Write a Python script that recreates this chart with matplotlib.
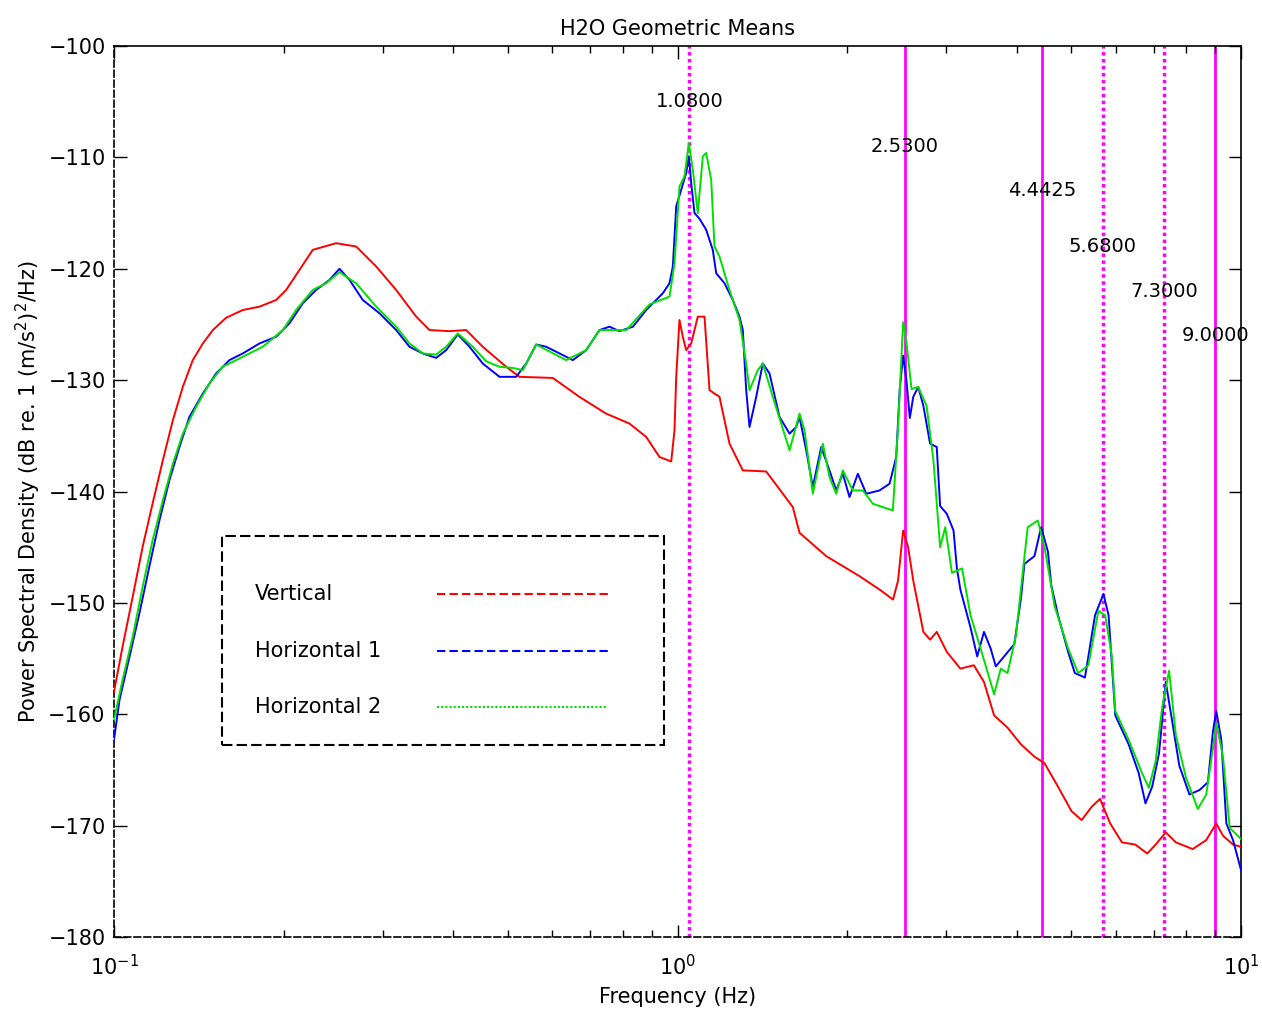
import numpy as np
import matplotlib
matplotlib.use("Agg")
import matplotlib.pyplot as plt
from matplotlib.patches import Rectangle

# ---- data (frequency in Hz, PSD in dB) ----
freq_v = [0.100, 0.1036, 0.1080, 0.1125, 0.1172, 0.1221, 0.1272, 0.1325, 0.1380, 0.1438,
          0.1498, 0.1581, 0.1693, 0.1813, 0.1940, 0.2021, 0.2134, 0.2253, 0.2479, 0.2690,
          0.2920, 0.3168, 0.3438, 0.3630, 0.3939, 0.4217, 0.4512, 0.4966, 0.5243, 0.6007,
          0.6699, 0.7467, 0.8219, 0.8800, 0.9292, 0.9746, 0.9878, 0.9947, 1.0081, 1.0219,
          1.0362, 1.0575, 1.0864, 1.1166, 1.1397, 1.1632, 1.1872, 1.2367, 1.3058, 1.4369,
          1.6019, 1.6463, 1.8359, 2.1038, 2.2830, 2.4124, 2.4622, 2.5142, 2.5659, 2.6202,
          2.7308, 2.8065, 2.8840, 3.0055, 3.1762, 3.3566, 3.4981, 3.6458, 3.8514, 4.0685,
          4.2990, 4.4803, 4.7338, 5.0026, 5.2131, 5.4325, 5.6208, 5.8578, 6.1462, 6.4938,
          6.8155, 7.0534, 7.3520, 7.6619, 8.2075, 8.6736, 9.0365, 9.2876, 9.6784, 10.0]
psd_v = [-158.0, -153.9, -149.4, -144.9, -141.0, -137.2, -133.6, -130.6, -128.2, -126.7,
         -125.5, -124.4, -123.7, -123.4, -122.8, -121.9, -120.1, -118.3, -117.7, -118.0,
         -119.8, -121.9, -124.3, -125.5, -125.6, -125.5, -127.0, -128.8, -129.7, -129.8,
         -131.5, -133.0, -133.9, -135.1, -136.9, -137.3, -134.5, -129.7, -124.6, -126.1,
         -127.3, -126.7, -124.3, -124.3, -130.9, -131.2, -131.5, -135.7, -138.1, -138.2,
         -141.4, -143.7, -145.8, -147.6, -148.8, -149.7, -148.0, -143.5, -145.0, -148.0,
         -152.6, -153.3, -152.6, -154.4, -155.9, -155.6, -157.1, -160.1, -161.2, -162.7,
         -163.8, -164.4, -166.5, -168.7, -169.5, -168.3, -167.6, -169.8, -171.5, -171.7,
         -172.5, -171.7, -170.6, -171.5, -172.1, -171.3, -169.8, -170.9, -171.7, -171.9]

freq_h1 = [0.100, 0.1023, 0.1066, 0.1110, 0.1156, 0.1204, 0.1254, 0.1307, 0.1361, 0.1438,
           0.1518, 0.1603, 0.1693, 0.1813, 0.1940, 0.2048, 0.2163, 0.2284, 0.2412, 0.2513,
           0.2618, 0.2764, 0.2960, 0.3168, 0.3345, 0.3532, 0.3730, 0.3886, 0.4075, 0.4275,
           0.4512, 0.4832, 0.5173, 0.5389, 0.5613, 0.5848, 0.6174, 0.6520, 0.6886, 0.7271,
           0.7574, 0.7888, 0.8332, 0.8800, 0.9417, 0.9678, 0.9811, 0.9947, 1.0152, 1.0362,
           1.0473, 1.0575, 1.0719, 1.0939, 1.1243, 1.1550, 1.1713, 1.2117, 1.2536, 1.2883,
           1.3058, 1.3240, 1.3421, 1.3793, 1.4170, 1.4563, 1.5171, 1.5806, 1.6241, 1.6463,
           1.6920, 1.7383, 1.7989, 1.8607, 1.9125, 1.9648, 2.0193, 2.0893, 2.1623, 2.2830,
           2.3781, 2.4441, 2.4795, 2.5142, 2.5482, 2.5836, 2.6202, 2.6740, 2.7308, 2.8065,
           2.8840, 2.9242, 3.0055, 3.0888, 3.1318, 3.1762, 3.3106, 3.4025, 3.4981, 3.5950,
           3.6711, 3.7993, 3.9594, 4.0685, 4.1259, 4.2990, 4.4187, 4.5427, 4.6048, 4.7338,
           4.9331, 5.0702, 5.2845, 5.5072, 5.6995, 5.8202, 5.9820, 6.3183, 6.5843, 6.7675,
           6.9555, 7.1519, 7.3520, 7.5571, 7.7696, 8.0988, 8.4398, 8.7341, 8.9125, 9.0365,
           9.2257, 9.4169, 9.6784, 10.0]
psd_h1 = [-162.3, -158.7, -154.8, -150.9, -146.7, -142.6, -139.0, -136.0, -133.3, -131.2,
          -129.4, -128.2, -127.6, -126.7, -126.1, -124.9, -123.1, -121.9, -121.0, -120.0,
          -121.0, -122.8, -124.0, -125.5, -127.0, -127.6, -128.0, -127.3, -125.9, -127.0,
          -128.5, -129.7, -129.7, -128.5, -126.8, -127.0, -127.6, -128.2, -127.3, -125.5,
          -125.2, -125.6, -125.2, -123.7, -122.2, -121.3, -119.8, -114.4, -112.9, -111.4,
          -109.9, -112.3, -115.0, -115.5, -116.5, -118.3, -120.4, -121.3, -122.8, -124.3,
          -125.5, -130.9, -134.2, -131.5, -128.5, -129.4, -133.3, -134.8, -134.2, -133.3,
          -136.3, -139.6, -136.0, -138.1, -139.9, -138.4, -140.5, -138.4, -140.2, -139.9,
          -139.3, -136.9, -130.8, -127.8, -130.0, -133.4, -131.5, -130.6, -132.3, -135.7,
          -136.0, -141.3, -142.0, -143.5, -146.9, -148.8, -152.2, -154.8, -152.6, -154.1,
          -155.7, -154.8, -153.7, -149.6, -146.5, -145.8, -143.2, -145.4, -148.4, -151.1,
          -154.4, -156.3, -156.7, -151.1, -149.2, -151.1, -160.1, -162.7, -165.3, -168.0,
          -166.5, -163.5, -157.1, -160.8, -164.6, -167.2, -166.8, -166.1, -161.6, -159.7,
          -162.3, -169.8, -171.3, -174.0]

freq_h2 = [0.100, 0.1036, 0.1080, 0.1125, 0.1172, 0.1221, 0.1272, 0.1325, 0.1399, 0.1477,
           0.1559, 0.1693, 0.1837, 0.1994, 0.2105, 0.2253, 0.2379, 0.2513, 0.2690, 0.2920,
           0.3168, 0.3345, 0.3532, 0.3730, 0.3886, 0.4075, 0.4332, 0.4575, 0.4832, 0.5101,
           0.5314, 0.5613, 0.6343, 0.6886, 0.7271, 0.8110, 0.8918, 0.9678, 0.9878, 1.0081,
           1.0290, 1.0473, 1.0645, 1.0864, 1.1090, 1.1243, 1.1475, 1.1632, 1.1872, 1.2367,
           1.2883, 1.3240, 1.3421, 1.3882, 1.4170, 1.4760, 1.5806, 1.6463, 1.6804, 1.7383,
           1.8109, 1.8607, 1.9125, 1.9648, 2.0469, 2.1323, 2.2215, 2.4107, 2.4603, 2.5142,
           2.5482, 2.6021, 2.6740, 2.7669, 2.8453, 2.9242, 2.9862, 3.0690, 3.1983, 3.3106,
           3.4503, 3.6458, 3.7471, 3.8514, 3.9869, 4.0976, 4.1824, 4.3586, 4.4803, 4.6692,
           4.9331, 5.1408, 5.3580, 5.5836, 5.7390, 5.8984, 5.9820, 6.3183, 6.6745, 6.8634,
           7.0534, 7.2484, 7.4534, 7.6619, 7.9858, 8.3818, 8.6736, 8.9125, 9.0365, 9.2876,
           9.5477, 10.0]
psd_h2 = [-160.5, -156.9, -153.0, -148.5, -144.3, -140.8, -137.5, -134.8, -132.4, -130.3,
          -128.8, -127.9, -127.0, -125.5, -123.7, -121.9, -121.3, -120.3, -121.3, -123.4,
          -125.2, -126.7, -127.6, -127.7, -127.0, -125.8, -127.0, -128.3, -128.8, -128.9,
          -129.1, -126.8, -128.2, -127.3, -125.5, -125.5, -123.2, -122.5, -119.5, -112.6,
          -111.7, -108.7, -111.1, -115.0, -109.9, -109.6, -112.0, -118.0, -118.9, -121.9,
          -124.6, -128.5, -130.9, -129.1, -128.5, -131.5, -136.3, -133.0, -134.5, -140.2,
          -135.7, -138.7, -140.2, -138.1, -139.9, -139.9, -141.1, -141.7, -134.5, -124.8,
          -126.6, -130.8, -130.6, -132.3, -137.2, -145.0, -143.2, -147.3, -146.9, -151.1,
          -154.1, -158.2, -155.9, -156.3, -152.9, -147.3, -143.2, -142.6, -145.0, -150.3,
          -154.1, -156.3, -155.6, -150.7, -151.1, -154.8, -159.7, -162.3, -165.3, -166.6,
          -164.2, -159.3, -156.1, -161.9, -165.7, -168.5, -167.2, -163.1, -160.8, -163.8,
          -170.2, -171.2]

# marked resonance lines and their labels
mark_freqs = [1.05, 2.53, 4.4425, 5.68, 7.30, 9.00]
mark_labels = ["1.0800", "2.5300", "4.4425", "5.6800", "7.3000", "9.0000"]
mark_dotted = [True, False, False, True, True, False]
label_db = [-105, -109, -113, -118, -122, -126]

series_names = ["Vertical", "Horizontal 1", "Horizontal 2"]
series_colors = ["red", "blue", "#00e000"]

plt.rcParams["font.family"] = "DejaVu Sans"
plt.rcParams["font.size"] = 15

fig = plt.figure(figsize=(12.62, 10.14), dpi=100)
ax = fig.add_axes([0.0903, 0.0759, 0.8931, 0.8787])

for f, dotted in zip(mark_freqs, mark_dotted):
    if dotted:
        ax.axvline(f, color="magenta", lw=2.5, ls=(0, (1, 1)), zorder=1)
    else:
        ax.axvline(f, color="magenta", lw=2, zorder=1)
for f, lab, yl in zip(mark_freqs, mark_labels, label_db):
    ax.text(f, yl, lab, ha="center", va="center", fontsize=14, zorder=5)

ax.plot(freq_v, psd_v, color=series_colors[0], lw=1.4, zorder=3)
ax.plot(freq_h1, psd_h1, color=series_colors[1], lw=1.4, zorder=3)
ax.plot(freq_h2, psd_h2, color=series_colors[2], lw=1.4, zorder=4)

ax.set_xscale("log")
ax.set_xlim(0.1, 10)
ax.set_ylim(-180, -100)
ax.set_yticks(np.arange(-180, -99, 10))
ax.tick_params(axis="both", which="both", direction="in", top=True, right=True)
ax.tick_params(axis="both", which="major", length=9, width=1)
ax.tick_params(axis="x", which="major", pad=12)
ax.tick_params(axis="y", which="major", pad=6)
ax.tick_params(axis="x", which="minor", length=5, width=1)

for side in ["left", "bottom"]:
    ax.spines[side].set_linestyle((0, (4, 2)))
ax.spines["right"].set_linestyle((0, (1, 1)))
for sp in ax.spines.values():
    sp.set_linewidth(1.2)

ax.set_title("H2O Geometric Means", fontsize=15, pad=8)
ax.set_xlabel("Frequency (Hz)", fontsize=15, labelpad=6)
ax.set_ylabel("Power Spectral Density (dB re. 1 (m/s$^2$)$^2$/Hz)", fontsize=15, labelpad=4)

# legend box, drawn by hand like the original
ax.add_patch(Rectangle((0.0958, 0.2155), 0.392, 0.2345, transform=ax.transAxes,
                       facecolor="white", edgecolor="black", lw=1.5,
                       ls=(0, (5, 2)), zorder=6))
leg_styles = [(0, (4, 2)), (0, (4, 2)), (0, (1, 1))]
for i, (name, col, st) in enumerate(zip(series_names, series_colors, leg_styles)):
    yy = 0.385 - i * 0.0635
    ax.text(0.125, yy, name, transform=ax.transAxes, va="center", ha="left",
            fontsize=15, zorder=7)
    ax.plot([0.287, 0.438], [yy, yy], transform=ax.transAxes, color=col,
            lw=1.5, ls=st, zorder=7)

fig.savefig("out.png", dpi=100)
